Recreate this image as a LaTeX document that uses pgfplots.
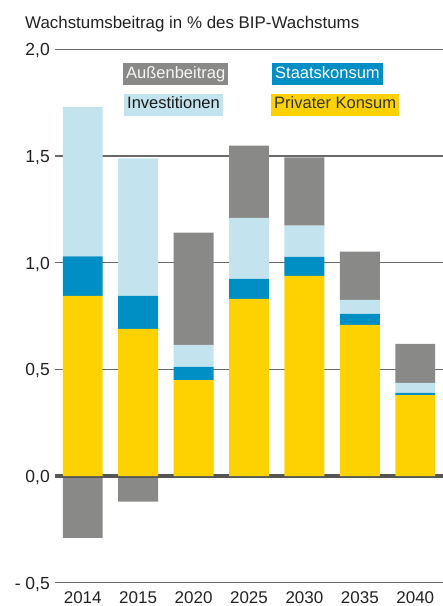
\documentclass[border=0pt]{standalone}
\usepackage{pgfplots}
\pgfplotsset{compat=1.18}
\usepackage{fontspec}
\setmainfont{Liberation Sans}
\definecolor{cA}{HTML}{898987}
\definecolor{cS}{HTML}{008FC4}
\definecolor{cI}{HTML}{C3E4EE}
\definecolor{cP}{HTML}{FDD200}
\definecolor{gridc}{HTML}{6A6A6A}
\definecolor{zeroc}{HTML}{555555}
\definecolor{txt}{HTML}{222222}
\tikzset{leg/.style={anchor=west, inner xsep=3pt, inner ysep=3pt, text height=12.2pt, text depth=3.8pt, font=\fontsize{16.5}{19}\selectfont}}
\pgfplotsset{
  common/.style={
    width=388pt, height=533.2pt, scale only axis,
    xmin=-0.5, xmax=6.5, ymin=-0.5, ymax=2.0,
    clip=false,
  }
}
\begin{document}
\begin{tikzpicture}
\path[use as bounding box] (-55pt,-23.3pt) rectangle (388pt,582.7pt);
% background axis: grid, ticks, negative bars
\begin{axis}[common,
  axis line style={draw=none},
  major tick length=0pt,
  ymajorgrids,
  grid style={line width=1.4pt, color=gridc},
  xtick={0,1,2,3,4,5,6},
  xticklabels={2014,2015,2020,2025,2030,2035,2040},
  ytick={-0.5,0,0.5,1,1.5,2},
  yticklabels={{- 0,5},{0,0},{0,5},{1,0},{1,5},{2,0}},
  xticklabel style={anchor=north, inner sep=0pt, yshift=-8.5pt, font=\fontsize{17}{20}\selectfont, text=txt},
  yticklabel style={anchor=base east, inner sep=0pt, xshift=-5pt, yshift=-6.5pt, font=\fontsize{17.5}{20}\selectfont, text=txt},
  ybar, bar width=0.72,
]
\addplot[fill=cA, draw=none] coordinates {(0,-0.29) (1,-0.12)};
\node[anchor=base west, inner sep=0pt, font=\fontsize{16.9}{19}\selectfont, text=txt]
  at (axis description cs:-0.0773,1.0398) {Wachstumsbeitrag in \% des BIP-Wachstums};
\end{axis}
% foreground axis: stacked positive bars
\begin{axis}[common, axis line style={draw=none}, major tick length=0pt, xtick=\empty, ytick=\empty, ybar stacked, bar width=0.72]
% Privater Konsum
\addplot[fill=cP, draw=none] coordinates {(0,0.845) (1,0.69) (2,0.45) (3,0.831) (4,0.939) (5,0.709) (6,0.38)};
% Staatskonsum
\addplot[fill=cS, draw=none] coordinates {(0,0.185) (1,0.155) (2,0.062) (3,0.094) (4,0.089) (5,0.052) (6,0.01)};
% Investitionen
\addplot[fill=cI, draw=none] coordinates {(0,0.70) (1,0.645) (2,0.103) (3,0.286) (4,0.146) (5,0.065) (6,0.047)};
% Aussenbeitrag (positive part)
\addplot[fill=cA, draw=none] coordinates {(0,0) (1,0) (2,0.526) (3,0.338) (4,0.32) (5,0.226) (6,0.183)};
\draw[line width=3.6pt, color=zeroc] (axis cs:-0.5,0) -- (axis cs:6.5,0);
\node[leg, fill=cA, text=white!93!gray] at (axis cs:0.727,1.886) {Außenbeitrag};
\node[leg, fill=cS, text=white] at (axis cs:3.415,1.886) {Staatskonsum};
\node[leg, fill=cI, text=black!90] at (axis cs:0.745,1.741) {Investitionen};
\node[leg, fill=cP, text=black!80] at (axis cs:3.397,1.741) {Privater Konsum};
\end{axis}
\end{tikzpicture}
\end{document}
